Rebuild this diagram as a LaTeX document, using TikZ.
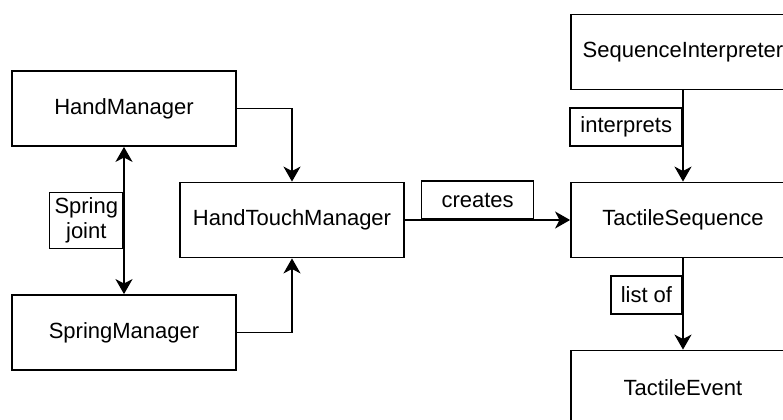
\documentclass[tikz,border=0pt]{standalone}
\usepackage{fontspec}
\setmainfont{Liberation Sans}
\usetikzlibrary{arrows.meta, positioning}
\tikzstyle{block} = [draw, fill=white, rectangle, minimum width=112pt, minimum height=37.5pt, line width=0.9pt]
\tikzstyle{lbl} = [draw, fill=white, rectangle, inner xsep=5pt, minimum height=19pt, line width=0.9pt]
\tikzstyle{wire} = [line width=0.9pt, -{Stealth[length=7.5pt, width=8.5pt, inset=2.2pt]}]

\begin{document}
\begin{tikzpicture}[auto, font=\fontsize{11}{13}\selectfont]
  \clip (0,0) rectangle (391.5pt,-209.5pt);
  % left column
  \node [block] (hand) at (62pt,-54.25pt) {HandManager};
  \node [block, below of=hand, node distance=112pt] (spring) {SpringManager};
  \node [block] (touch) at (146pt,-110pt) {HandTouchManager};
  % right column
  \node [block, right of=touch, node distance=195.5pt] (seq) {TactileSequence};
  \node [block, above of=seq, node distance=84pt] (interp) {SequenceInterpreter};
  \node [block, below of=seq, node distance=84pt] (event) {TactileEvent};
  % connectors
  \draw [wire, {Stealth[length=7.5pt, width=8.5pt, inset=2.2pt]}-{Stealth[length=7.5pt, width=8.5pt, inset=2.2pt]}] (hand) -- node [lbl, anchor=east, align=center, font=\fontsize{11}{12.5}\selectfont, inner xsep=2.5pt, inner ysep=2pt, minimum height=28pt, pos=0.5] (joint) {Spring\\joint} (spring);
  \draw [wire] (hand.east) -| (touch.north);
  \draw [wire] (spring.east) -| (touch.south);
  \draw [wire] (touch) -- node [lbl, anchor=south, minimum width=56pt, pos=0.44] (creates) {creates} (seq);
  \draw [wire] (interp) -- node [lbl, anchor=east, pos=0.4] (interprets) {interprets} (seq);
  \draw [wire] (seq) -- node [lbl, anchor=east, pos=0.4] (listof) {list of} (event);
\end{tikzpicture}
\end{document}
